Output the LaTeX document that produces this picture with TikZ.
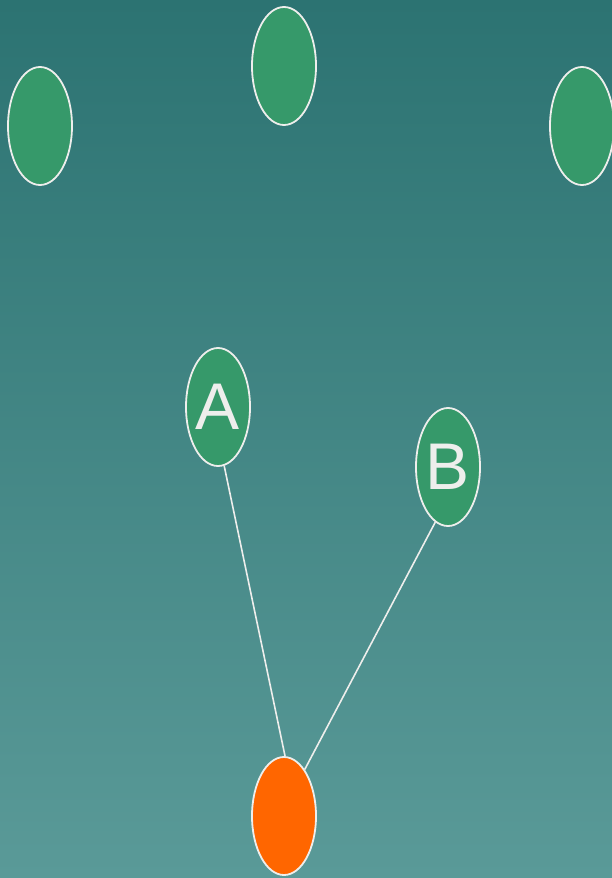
\documentclass[tikz,border=0pt]{standalone}
\usepackage{fontspec}
\setmainfont{Liberation Sans}
\usetikzlibrary{shapes.geometric}

\definecolor{bgtop}{RGB}{44,115,114}
\definecolor{bgbottom}{RGB}{90,154,152}
\definecolor{leaf}{RGB}{54,153,106}
\definecolor{root}{RGB}{255,102,0}
\definecolor{chalk}{RGB}{238,238,236}

\tikzset{
    blob/.style={ellipse, draw=chalk, line width=1.8pt, fill=leaf,
        minimum width=64pt, minimum height=118pt, inner sep=0pt,
        text=chalk, font=\fontsize{66}{66}\selectfont},
    rootblob/.style={blob, fill=root},
    link/.style={draw=chalk, line width=1.6pt}
}

\begin{document}
\begin{tikzpicture}[x=1pt, y=-1pt]
    % Background with vertical shading
    \shade[top color=bgtop, bottom color=bgbottom] (0,0) rectangle (612,878);
    \useasboundingbox (0,0) rectangle (612,878);

    % Top row
    \node[blob] (left)  at (40,126)  {};
    \node[blob] (mid)   at (284,66)  {};
    \node[blob] (right) at (582,126) {};

    % Middle pair
    \node[blob] (A) at (218,407) {A};
    \node[blob] (B) at (448,467) {B};

    % Bottom node
    \node[rootblob] (O) at (284,816) {};

    % Connectors
    \draw[link] (A.276) -- (O.89);
    \draw[link] (B.257) -- (O.66);
\end{tikzpicture}
\end{document}
